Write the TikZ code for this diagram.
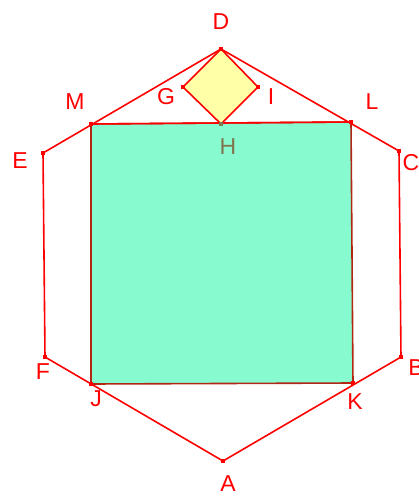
\documentclass[tikz,border=0pt]{standalone}
\usepackage{fontspec}
\setmainfont{Liberation Sans}
\definecolor{sqfill}{RGB}{136,250,208}
\definecolor{sqedge}{RGB}{176,40,20}
\definecolor{smfill}{RGB}{255,255,168}
\definecolor{hcol}{RGB}{128,118,80}
\begin{document}
\begin{tikzpicture}[x=1pt,y=-1pt,
    pt/.style={fill=red,inner sep=0pt,minimum size=4.5pt},
    lbl/.style={text=red,font=\fontsize{23}{26}\selectfont,inner sep=0pt},
    edge/.style={red,line width=1.6pt}]
    \useasboundingbox (0,0) rectangle (419,496);
    % hexagon
    \coordinate (A) at (223,461);
    \coordinate (B) at (401,357);
    \coordinate (C) at (399,151);
    \coordinate (D) at (221,49);
    \coordinate (E) at (43,153);
    \coordinate (F) at (45,357);
    % square in the hexagon
    \coordinate (J) at (91,384);
    \coordinate (K) at (353,383);
    \coordinate (L) at (351,122);
    \coordinate (M) at (91,124);
    % small square
    \coordinate (G) at (183,87);
    \coordinate (H) at (221,124);
    \coordinate (I) at (258,87);

    \filldraw[fill=sqfill,draw=sqedge,line width=1.6pt] (J)--(K)--(L)--(M)--cycle;
    \filldraw[fill=smfill,draw=red,line width=1.6pt] (D)--(I)--(H)--(G)--cycle;
    \draw[edge] (A)--(B)--(C)--(D)--(E)--(F)--cycle;
    \draw[edge] (M)--(L);

    \foreach \p in {A,B,C,D,E,F,J,K,L,M,G,I}{
        \node[pt] at (\p) {};
    }
    \node[pt,fill=hcol] at (H) {};

    \node[lbl] (lA) at (228,484) {A};
    \node[lbl] (lB) at (416,368) {B};
    \node[lbl] (lC) at (411,163) {C};
    \node[lbl] (lD) at (221,22) {D};
    \node[lbl] (lE) at (20,161) {E};
    \node[lbl] (lF) at (43,372) {F};
    \node[lbl] (lG) at (166,97) {G};
    \node[lbl,text=hcol] (lH) at (228,147) {H};
    \node[lbl] (lI) at (271,97) {I};
    \node[lbl] (lJ) at (96,399) {J};
    \node[lbl] (lK) at (355,402) {K};
    \node[lbl] (lL) at (372,102) {L};
    \node[lbl] (lM) at (75,102) {M};
\end{tikzpicture}
\end{document}
